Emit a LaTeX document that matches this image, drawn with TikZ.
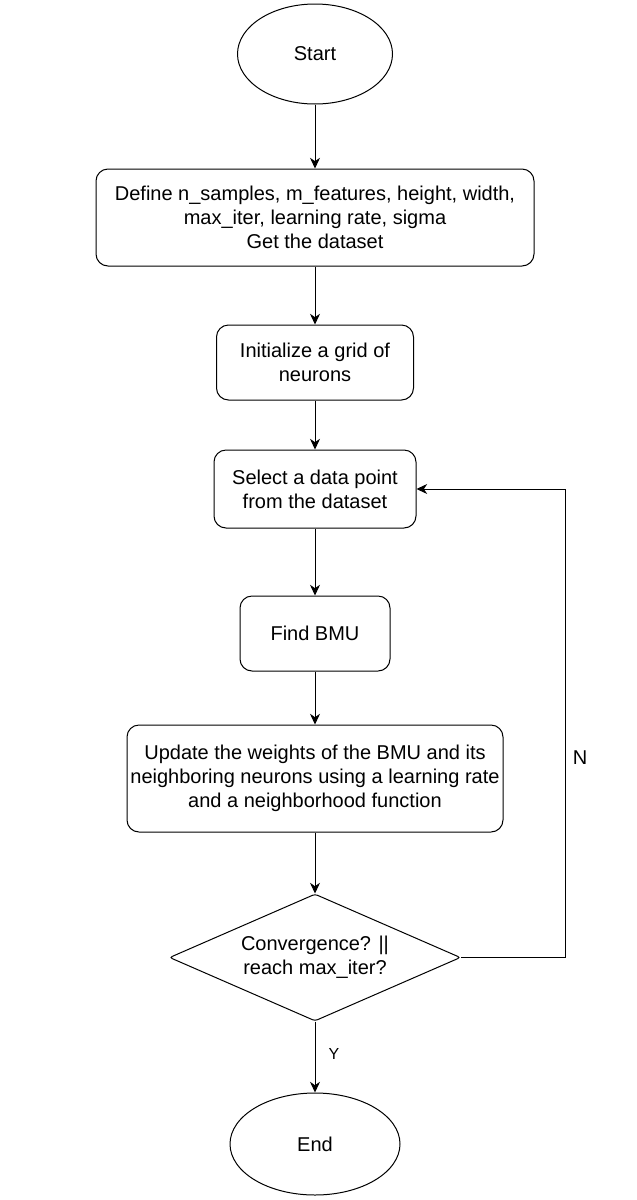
\documentclass[tikz,border=0pt]{standalone}
\usepackage{fontspec}
\setmainfont{Liberation Sans}
\usetikzlibrary{shapes.geometric,arrows.meta}

\tikzset{every picture/.style={line width=0.75pt}}
\tikzset{
  procbox/.style={draw, rounded corners=9pt, align=center, inner sep=0pt},
  termnode/.style={draw, ellipse, inner sep=0pt},
  decnode/.style={draw, diamond, aspect=2.3, rounded corners=2pt, inner sep=0pt, align=center},
  flowarr/.style={-{Stealth[length=8pt,width=7.5pt,inset=2.5pt]}},
}

\begin{document}
\begin{tikzpicture}[x=0.75pt,y=0.75pt,yscale=-1,xscale=1,font=\fontsize{15}{18}\selectfont]
\useasboundingbox (0,0) rectangle (636,1200);

%Shape: Ellipse [id:start]
\node [termnode, minimum width=116.25pt, minimum height=75pt] (start) at (315,54) {Start};
%Shape: Rounded Rect [id:define]
\node [procbox, minimum width=328.5pt, minimum height=72.75pt] (define) at (315,217.5) {Define n\_samples, m\_features, height, width,\\max\_iter, learning rate, sigma\\Get the dataset};
%Shape: Rounded Rect [id:init]
\node [procbox, minimum width=147.75pt, minimum height=56.25pt] (init) at (315,362.5) {Initialize a grid of\\neurons};
%Shape: Rounded Rect [id:select]
\node [procbox, minimum width=151.5pt, minimum height=58.5pt] (select) at (315,489) {Select a data point\\from the dataset};
%Shape: Rounded Rect [id:bmu]
\node [procbox, minimum width=112.5pt, minimum height=56.25pt] (bmu) at (315,633.5) {Find BMU};
%Shape: Rounded Rect [id:update]
\node [procbox, minimum width=282pt, minimum height=80.25pt] (update) at (315,778.5) {Update the weights of the BMU and its\\neighboring neurons using a learning rate\\and a neighborhood function};
%Shape: Diamond [id:conv]
\node [decnode, minimum width=218.25pt, minimum height=95.25pt] (conv) at (315,957.5) {Convergence? ||\\reach max\_iter?};
%Shape: Ellipse [id:end]
\node [termnode, minimum width=127.5pt, minimum height=76.5pt] (end) at (315,1144) {End};

\coordinate (loopr) at (565,957.5);

%Straight Lines
\draw [flowarr] (start) -- (define);
\draw [flowarr] (define) -- (init);
\draw [flowarr] (init) -- (select);
\draw [flowarr] (select) -- (bmu);
\draw [flowarr] (bmu) -- (update);
\draw [flowarr] (update) -- (conv);
\draw [flowarr] (conv) -- (end);
\draw [flowarr] (conv.east) -- (loopr) |- (select.east);

% Text Node
\node [font=\fontsize{12}{14}\selectfont] (ylab) at (334,1054) {Y};
% Text Node
\node (nlab) at (580,758) {N};

\end{tikzpicture}
\end{document}
